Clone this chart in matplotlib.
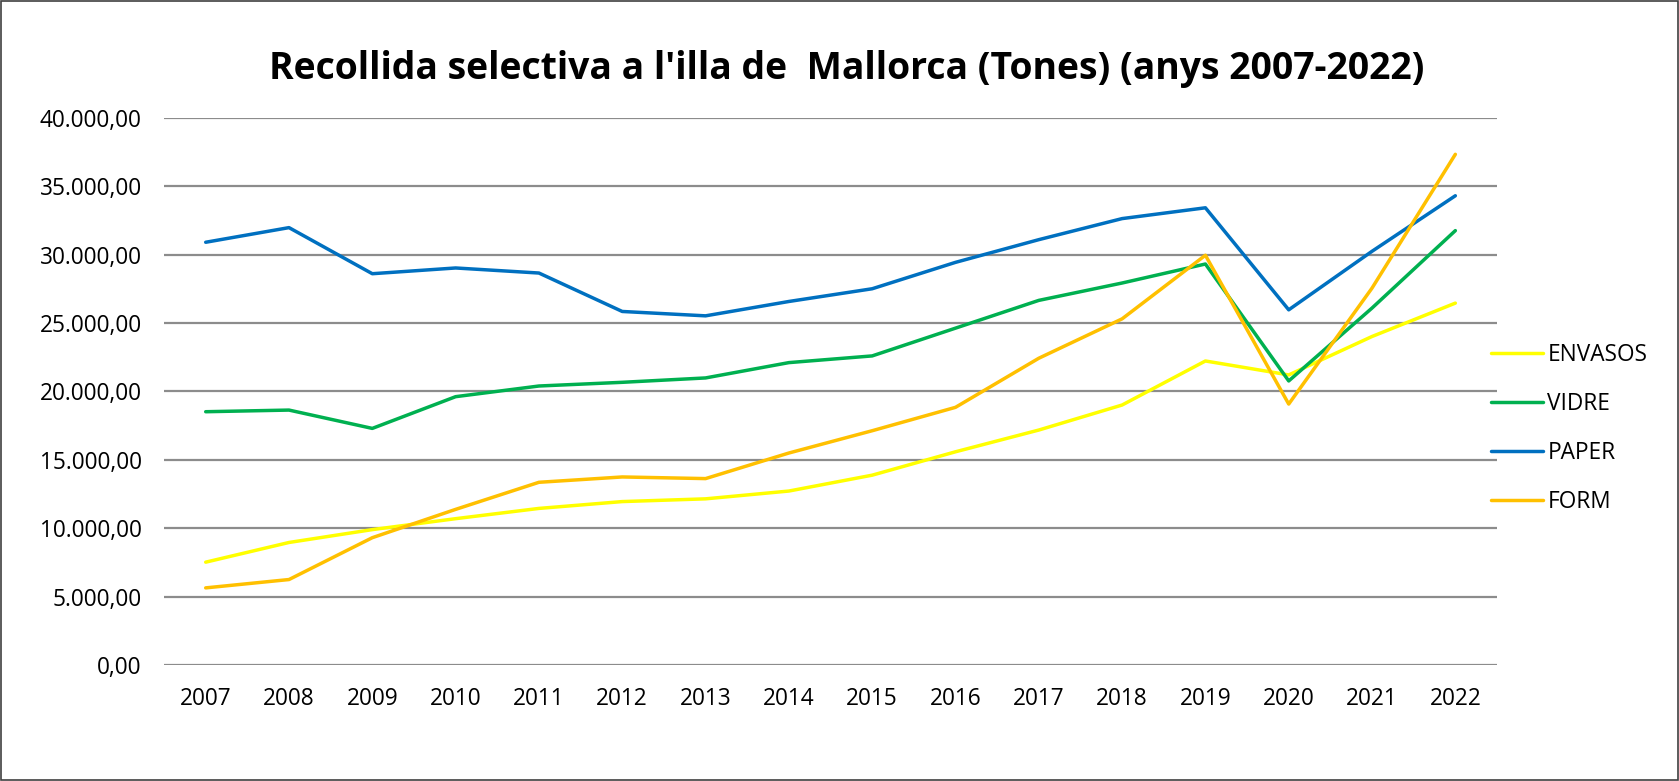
import matplotlib.pyplot as plt
from matplotlib.ticker import FuncFormatter

anys = [str(a) for a in range(2007, 2023)]

envasos = [7520, 8960, 9900, 10700, 11450, 11950, 12150, 12720, 13880, 15590,
           17180, 19010, 22230, 21210, 24020, 26460]
vidre = [18520, 18640, 17300, 19620, 20400, 20670, 20990, 22110, 22600, 24630,
         26660, 27930, 29320, 20770, 26100, 31760]
paper = [30910, 31980, 28610, 29030, 28660, 25850, 25530, 26580, 27510, 29440,
         31100, 32640, 33430, 25970, 30250, 34310]
form = [5640, 6250, 9310, 11380, 13360, 13750, 13630, 15500, 17130, 18840,
        22430, 25310, 29960, 19080, 27560, 37340]

series = [("ENVASOS", envasos, "#FFFF00"),
          ("VIDRE", vidre, "#00B050"),
          ("PAPER", paper, "#0070C0"),
          ("FORM", form, "#FFC000")]

plt.rcParams['font.family'] = ['Open Sans', 'DejaVu Sans']

fig = plt.figure(figsize=(16.79, 7.81), dpi=100)
ax = fig.add_axes([0.0977, 0.1485, 0.7939, 0.7005])

for nom, vals, col in series:
    ax.plot(range(len(anys)), vals, color=col, lw=2.5, label=nom,
            solid_capstyle='round', solid_joinstyle='round')

ax.set_xlim(-0.5, len(anys) - 0.5)
ax.set_ylim(0, 40000)
ax.set_yticks(range(0, 40001, 5000))
ax.yaxis.set_major_formatter(FuncFormatter(
    lambda v, p: f"{v:,.2f}".replace(",", "X").replace(".", ",").replace("X", ".")))
ax.set_xticks(range(len(anys)))
ax.set_xticklabels(anys)
ax.tick_params(axis='both', length=0, labelsize=16.3, colors='black')
ax.tick_params(axis='x', pad=15.5)
ax.tick_params(axis='y', pad=16)
ax.grid(axis='y', color='#8c8c8c', lw=1.6)
ax.set_axisbelow(True)
for s in ax.spines.values():
    s.set_visible(False)

fig.text(0.504, 0.912, "Recollida selectiva a l'illa de  Mallorca (Tones) (anys 2007-2022)",
         ha='center', va='center', fontsize=26.9, fontweight='bold')

ax.legend(loc='center left', bbox_to_anchor=(0.980, 0.4327), frameon=False,
          fontsize=16.3, handlelength=2.3, labelspacing=1.1, handletextpad=0.2)

fig.patches.append(plt.Rectangle((0.0006, 0.001), 0.9988, 0.998, transform=fig.transFigure,
                                 fill=False, edgecolor='#404040', lw=1.2))

fig.savefig("out.png", dpi=100, facecolor='white')
